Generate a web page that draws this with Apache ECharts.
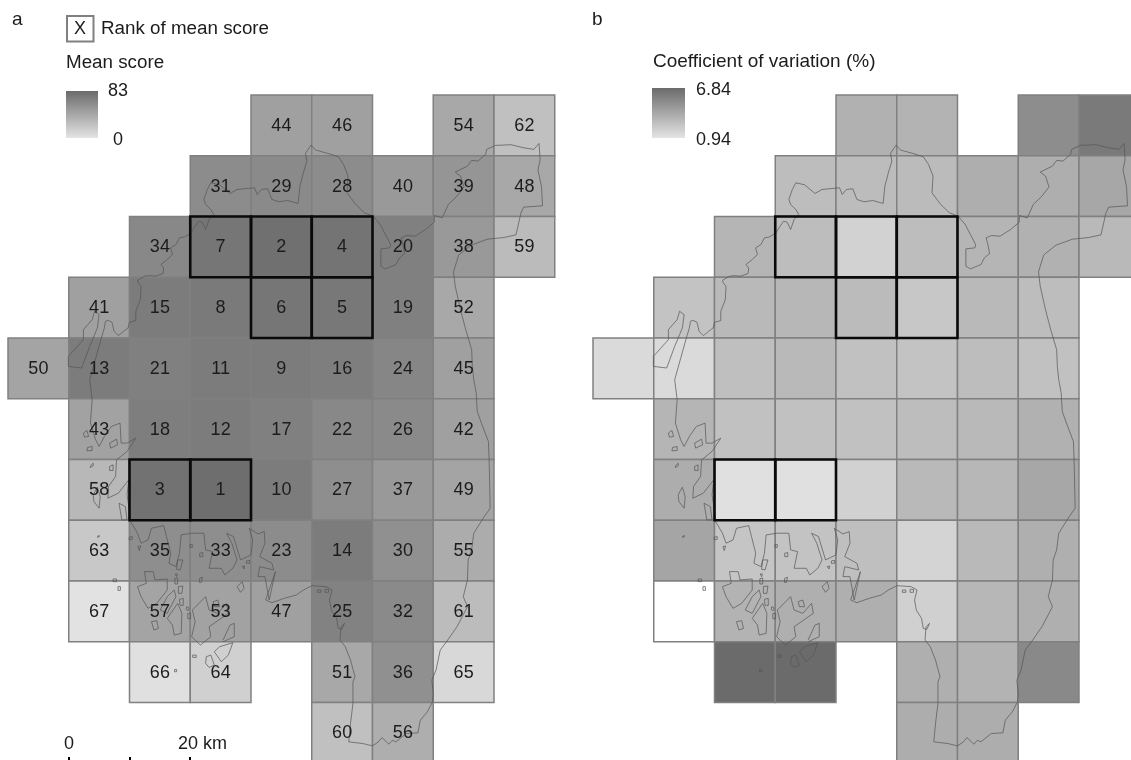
<!DOCTYPE html>
<html><head><meta charset="utf-8">
<style>html,body{margin:0;padding:0;background:#fff}#c{width:1131px;height:760px}</style>
<script src="https://cdn.jsdelivr.net/npm/echarts@6/dist/echarts.min.js"></script>
</head><body><div id="c"></div>
<script>
// ---- data: rank of mean score, per grid row (10 km cells, north to south)
var rankRows = [
 [null,null,null,null,44,46,null,54,62],
 [null,null,null,31,29,28,40,39,48],
 [null,null,34,7,2,4,20,38,59],
 [null,41,15,8,6,5,19,52,null],
 [50,13,21,11,9,16,24,45,null],
 [null,43,18,12,17,22,26,42,null],
 [null,58,3,1,10,27,37,49,null],
 [null,63,35,33,23,14,30,55,null],
 [null,67,57,53,47,25,32,61,null],
 [null,null,66,64,null,51,36,65,null],
 [null,null,null,null,null,60,56,null,null]
];
// mean score, indexed by rank - 1 (estimated from grey level)
var meanByRank = [80.9,79.6,78.2,76.8,74.1,75.4,75.4,72.7,71.3,71.3,71.3,71.3,71.3,71.3,71.3,70,68.6,70,68.6,68.6,68.6,63.1,60.4,64.5,67.2,61.7,59,60.4,61.7,57.6,60.4,61.7,59,63.1,59,57.6,51.4,51.4,54.2,51.4,46.6,46.6,45.3,46.6,46.6,46.6,46.6,41.2,43.9,43.9,41.2,41.2,45.3,41.2,38.4,37,43.9,30.2,28.1,24.7,27.4,24.7,19.2,13.7,8.2,2.7,1.4];
// coefficient of variation (%), per grid row
var cvRows = [
 [null,null,null,null,3.42,3.32,null,5.2,6.1],
 [null,null,null,2.82,2.87,2.92,3.57,3.57,3.91],
 [null,null,3.22,2.82,1.83,2.82,3.22,3.42,3.02],
 [null,2.53,3.02,3.12,2.92,2.33,3.02,2.82,null],
 [1.44,1.44,2.72,3.02,2.63,2.53,2.82,2.63,null],
 [null,3.22,2.63,2.63,2.63,2.82,3.02,3.42,null],
 [null,3.62,1.14,1.14,1.88,3.02,3.12,3.91,null],
 [null,4.01,2.43,2.53,2.72,1.73,3.02,3.52,null],
 [null,'none',3.32,3.52,3.52,1.93,3.12,3.52,null],
 [null,null,6.84,6.84,null,3.52,3.32,5.4,null],
 [null,null,null,null,null,3.62,3.62,null,null]
];
var meanRange = [0,83], cvRange = [0.94,6.84];
// ---- coastline, digitised (north part)
var coastNorth = [[258,1140],[290,1020],[300,985],[303,965],[310,962],[322,968],[328,995],[340,1008],[355,995],[368,985],[372,968],[390,963],[390,935],[403,900],[405,860],[397,850],[395,842],[415,830],[430,828],[445,830],[468,822],[470,805],[462,795],[480,780],[495,765],[490,745],[505,735],[515,715],[530,712],[548,700],[560,680],[570,665],[580,668],[590,690],[600,660],[613,645],[605,630],[590,615],[585,600],[595,570],[605,550],[630,556],[660,582],[680,570],[700,568],[730,565],[738,585],[750,570],[768,568],[780,600],[800,607],[825,603],[855,612],[860,560],[870,520],[880,485],[876,462],[892,437],[905,452],[940,462],[970,472],[985,495],[998,530],[995,580],[1020,615],[1045,640],[1070,650],[1090,675],[1105,705],[1120,735],[1118,745],[1092,748],[1092,800],[1105,808],[1135,795],[1145,775],[1160,762],[1155,735],[1150,715],[1165,708],[1190,710],[1220,690],[1245,668],[1245,648],[1268,655],[1285,615],[1310,590],[1330,562],[1320,530],[1305,518],[1340,500],[1352,483],[1370,485],[1392,465],[1395,450],[1420,438],[1465,436],[1500,445],[1530,450],[1545,432],[1548,481],[1542,512],[1552,561],[1555,619],[1501,623],[1493,641],[1479,706],[1444,714],[1397,719],[1350,737],[1315,766],[1300,817],[1305,860],[1320,930],[1335,990],[1352,1050],[1354,1100],[1358,1140]];
var islandNorth = [[197,1070],[240,1020],[240,990],[265,960],[272,935],[285,945],[280,985],[258,1040],[235,1105],[197,1100],[197,1070]];
// ---- coastline, digitised (south part)
var coastSouthEast = [[1352,0],[1365,40],[1368,95],[1380,130],[1400,185],[1402,240],[1405,385],[1385,415],[1358,460],[1352,510],[1342,540],[1340,600],[1328,650],[1340,680],[1310,740],[1280,785],[1262,810],[1250,870],[1238,900],[1242,940],[1240,965],[1225,995],[1205,1020],[1198,1058],[1165,1060],[1135,1085],[1125,1080],[1115,1092],[1095,1072],[1085,1085],[1068,1097],[1040,1090],[1000,1085],[1005,1030],[1012,970],[1012,905],[1018,890],[1005,840],[990,800],[975,780],[978,740],[988,730],[980,748],[970,745],[965,715],[950,690],[945,660],[952,630],[935,620],[895,617],[870,630],[850,645],[815,655],[780,668],[762,660],[790,575],[795,578],[772,660]];
var coastSouthWest = [[258,0],[265,60],[260,130],[275,180],[285,200],[300,170],[320,140],[345,130],[348,190],[365,190],[390,175],[365,215],[335,240],[332,290],[312,320],[310,355],[340,340],[370,300],[365,345],[373,400],[375,425],[395,460],[405,490],[425,480],[435,445],[470,437],[478,470],[490,520],[485,550],[505,560],[515,520],[520,465],[550,460],[585,460],[590,510],[610,515],[600,565],[635,565],[645,585],[668,565],[680,540],[665,490],[650,460],[670,470],[690,540],[720,525],[725,480],[715,445],[740,462],[758,455],[760,490],[745,530],[780,550],[785,570],[745,560],[740,590],[760,590],[772,660]];
var islandsSouth = [
 [[395,620],[420,610],[415,575],[440,575],[445,600],[480,597],[480,630],[450,670],[425,685],[405,650],[395,620]],
 [[460,690],[480,650],[500,630],[505,650],[480,700],[460,690]],
 [[480,715],[510,670],[522,700],[520,760],[500,765],[495,735],[480,715]],
 [[435,725],[450,722],[455,745],[442,750],[435,725]],
 [[512,620],[525,618],[522,640],[512,640],[512,620]],
 [[552,690],[590,650],[600,690],[625,700],[650,670],[655,700],[600,740],[605,770],[575,795],[550,770],[560,725],[552,690]],
 [[612,665],[625,660],[630,680],[615,680],[612,665]],
 [[640,780],[660,735],[672,730],[672,770],[640,785]],
 [[630,800],[668,788],[655,825],[635,845],[615,815],[630,800]],
 [[592,830],[605,825],[615,855],[600,862],[590,850],[592,830]],
 [[680,620],[695,605],[700,625],[690,637],[680,620]],
 [[510,540],[525,540],[517,570],[507,568],[510,540]],
 [[268,345],[280,322],[288,350],[285,385],[270,365],[268,345]],
 [[342,370],[360,380],[365,420],[350,420],[342,370]],
 [[315,260],[325,255],[325,272],[315,272],[315,260]],
 [[240,160],[250,152],[255,170],[243,172],[240,160]],
 [[252,203],[265,200],[265,212],[250,213],[252,203]],
 [[315,190],[335,178],[338,195],[318,205],[315,190]],
 [[260,258],[268,250],[268,258],[260,263],[260,258]],
 [[325,597],[335,597],[335,605],[325,605],[325,597]],
 [[339,620],[346,620],[346,631],[339,631],[339,620]],
 [[553,825],[563,825],[563,832],[553,832],[553,825]],
 [[501,868],[507,868],[507,875],[501,875],[501,868]],
 [[573,595],[581,592],[578,607],[572,607],[573,595]],
 [[503,582],[509,582],[507,590],[503,590],[503,582]],
 [[502,596],[510,594],[510,612],[502,612],[502,596]],
 [[545,494],[552,494],[552,502],[545,502],[545,494]],
 [[396,500],[404,498],[400,512],[396,512],[396,500]],
 [[371,472],[380,470],[380,478],[371,480],[371,472]],
 [[573,520],[582,518],[582,530],[573,530],[573,520]],
 [[707,543],[716,541],[716,550],[707,550],[707,543]],
 [[695,560],[702,558],[700,567],[695,567],[695,560]],
 [[281,468],[287,468],[287,473],[281,473],[281,468]],
 [[536,680],[543,684],[540,692],[534,688],[536,680]],
 [[539,700],[547,700],[547,716],[539,716],[539,700]],
 [[515,658],[526,655],[526,676],[517,676],[515,658]],
 [[910,630],[920,630],[920,637],[910,637],[910,630]],
 [[932,628],[942,628],[942,637],[932,637],[932,628]]
];
// calibration of digitised units to km (one cell = 10 km)
function toKm(pts, yOff){
  return pts.map(function(p){ return [(p[0]-24)/17.4, (p[1]+yOff-287)/18.2]; });
}
var coastKm = [];
function addRing(r){ coastKm = coastKm.concat(r, [['-','-']]); }
addRing(toKm(coastNorth,0).concat(toKm(coastSouthEast,1140).slice(1)));
addRing(toKm(islandNorth,0));
addRing(toKm([[258,1140]],0).concat(toKm(coastSouthWest,1140)));
islandsSouth.forEach(function(r){ addRing(toKm(r,1140)); });

var CELL = 10;
var cellsA = [], cellsB = [], labels = [], topCells = [];
rankRows.forEach(function(row,r){
  row.forEach(function(rank,c){
    if(rank===null) return;
    cellsA.push([c*CELL, r*CELL, meanByRank[rank-1]]);
    labels.push([c*CELL, r*CELL, rank]);
    if(rank<=7) topCells.push([c*CELL, r*CELL]);
    var cv = cvRows[r][c];
    cellsB.push([c*CELL, r*CELL, cv==='none'?-1:cv]);
  });
});

var GREY_LOW = '#e4e4e4', GREY_HIGH = '#6b6b6b', INK = '#1c1c1c', FONT = '"Liberation Sans",Arial,sans-serif';

function rectOf(api){
  var a = api.coord([api.value(0), api.value(1)]);
  var b = api.coord([api.value(0)+CELL, api.value(1)+CELL]);
  return {x:a[0], y:a[1], width:b[0]-a[0], height:b[1]-a[1]};
}
function renderCell(p, api){
  var v = api.value(2);
  return {type:'rect', shape:rectOf(api),
    style:{fill: v<0 ? '#ffffff' : api.visual('color'), stroke:'#808080', lineWidth:1.5}};
}
function renderTop(p, api){
  return {type:'rect', shape:rectOf(api), style:{fill:'none', stroke:'#0a0a0a', lineWidth:2.6}};
}
function renderLabel(p, api){
  var a = api.coord([api.value(0)+CELL/2, api.value(1)+CELL/2]);
  return {type:'text', x:a[0], y:a[1]+0.5, silent:true,
    style:{text:String(api.value(2)), fill:INK, font:'18px '+FONT, textAlign:'center', textVerticalAlign:'middle'}};
}
function panelSeries(idx, cells, withLabels){
  var out = [
    {type:'custom', xAxisIndex:idx, yAxisIndex:idx, data:cells, renderItem:renderCell, clip:false, z:1, animation:false, encode:{x:0,y:1}},
    {type:'line', xAxisIndex:idx, yAxisIndex:idx, data:coastKm, showSymbol:false, symbol:'none', connectNulls:false, silent:true, clip:false, z:2, animation:false,
      lineStyle:{color:'#555555', width:0.7}},
    {type:'custom', xAxisIndex:idx, yAxisIndex:idx, data:topCells, renderItem:renderTop, clip:false, z:3, animation:false, encode:{x:0,y:1}}
  ];
  if(withLabels) out.push({type:'custom', xAxisIndex:idx, yAxisIndex:idx, data:labels, renderItem:renderLabel, clip:false, z:4, animation:false, encode:{x:0,y:1}});
  return out;
}
function axis(i, max, inv){ return {type:'value', gridIndex:i, min:0, max:max, inverse:inv, show:false, splitLine:{show:false}}; }
function txt(x,y,t,size,align){
  return {type:'text', x:x, y:y, silent:true, z:10,
    style:{text:t, fill:INK, font:size+'px '+FONT, textAlign:align||'left', textVerticalAlign:'middle'}};
}
function gradient(x,y,w,h){
  return {type:'rect', shape:{x:x,y:y,width:w,height:h}, silent:true, z:10,
    style:{fill:new echarts.graphic.LinearGradient(0,0,0,1,[{offset:0,color:GREY_HIGH},{offset:1,color:GREY_LOW}])}};
}
function tick(x){ return {type:'line', shape:{x1:x,y1:757,x2:x,y2:762}, silent:true, z:10, style:{stroke:'#000',lineWidth:2}}; }

var chart = echarts.init(document.getElementById('c'), null, {renderer:'canvas', width:1131, height:760});
chart.setOption({
  animation:false, backgroundColor:'#ffffff',
  // 60.75 px per 10 km; the map runs off the page at the right and bottom
  grid:[
    {left:8, top:95, width:607.5, height:665},
    {left:593, top:95, width:538, height:665}
  ],
  xAxis:[axis(0,100,false),axis(1,88.56,false)],
  yAxis:[axis(0,109.47,true),axis(1,109.47,true)],
  visualMap:[
    {show:false, type:'continuous', seriesIndex:0, dimension:2, min:meanRange[0], max:meanRange[1], inRange:{color:[GREY_LOW,GREY_HIGH]}},
    {show:false, type:'continuous', seriesIndex:4, dimension:2, min:cvRange[0], max:cvRange[1], inRange:{color:[GREY_LOW,GREY_HIGH]}}
  ],
  series: panelSeries(0,cellsA,true).concat(panelSeries(1,cellsB,false)),
  graphic:{elements:[
    txt(12,20,'a',19), txt(592,20,'b',19),
    {type:'rect', shape:{x:67,y:16,width:26.5,height:25.5}, silent:true, z:10, style:{fill:'#fff',stroke:'#808080',lineWidth:2}},
    txt(80,29,'X',18,'center'), txt(101,29,'Rank of mean score',18.8),
    txt(66,63,'Mean score',18.8),
    gradient(66,91,32,47),
    txt(108,91,'83',18), txt(113,140,'0',18),
    txt(653,62,'Coefficient of variation (%)',19),
    gradient(652,88,33,50),
    txt(696,90,'6.84',18), txt(696,140,'0.94',18),
    txt(69,744,'0',18,'center'), txt(178,744,'20 km',18),
    tick(69),tick(130),tick(190)
  ]}
});
</script></body></html>
